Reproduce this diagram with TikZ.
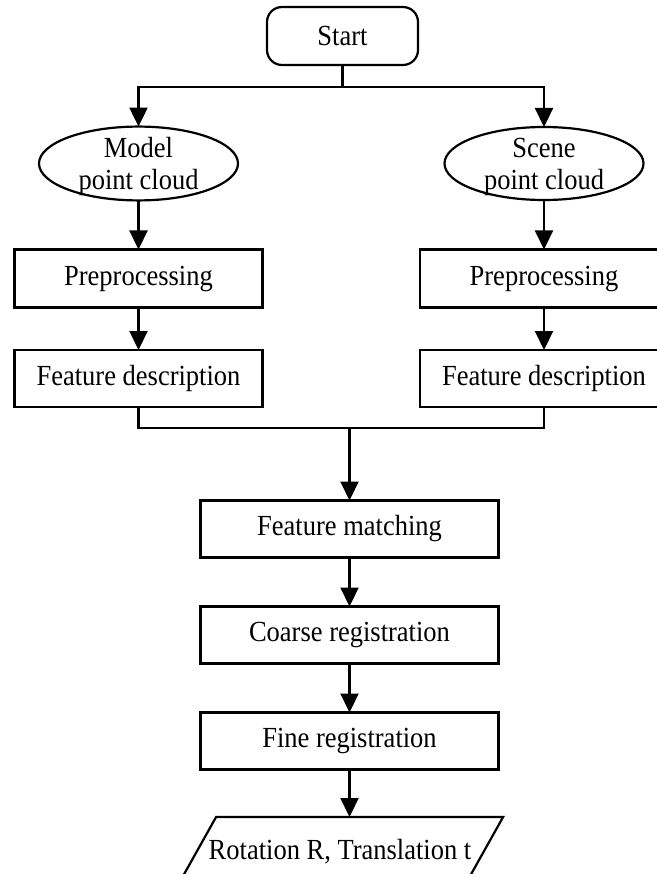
\documentclass[tikz,border=0pt]{standalone}
\usepackage{fontspec}
\setmainfont{Liberation Serif}
\usetikzlibrary{arrows.meta,shapes.geometric}
\newcommand{\vstr}[1]{\scalebox{1}[1.1]{#1}}
\begin{document}
\begin{tikzpicture}[x=1pt,y=-1pt,
  every node/.style={font=\fontsize{26.5}{32}\selectfont, inner sep=0pt, outer sep=0pt},
  arr/.style={line width=2.2pt, -{Triangle[length=19pt,width=18pt]}},
  procbox/.style={draw, line width=2.2pt, rectangle, minimum width=248pt, minimum height=58pt},
  midbox/.style={draw, line width=2.2pt, rectangle, minimum width=298pt, minimum height=57pt},
  cloud/.style={draw, line width=2.2pt, ellipse, minimum width=199pt, minimum height=73pt, align=center, text depth=0pt},
  startbox/.style={draw, line width=2.2pt, rectangle, rounded corners=15pt, minimum width=151pt, minimum height=58pt}
]
\useasboundingbox (0,0) rectangle (656,874);

\node[startbox] (start) at (342.5,36) {\vstr{Start}};
\node[cloud] (m) at (138.5,163.5) {\vstr{Model}\\\vstr{point cloud}};
\node[cloud] (s) at (544,163.5) {\vstr{Scene}\\\vstr{point cloud}};
\node[procbox] (p1) at (138.5,278.5) {\vstr{Preprocessing}};
\node[procbox] (p2) at (544,278.5) {\vstr{Preprocessing}};
\node[procbox, minimum height=57pt] (f1) at (138.5,378.5) {\vstr{Feature description}};
\node[procbox, minimum height=57pt] (f2) at (544,378.5) {\vstr{Feature description}};
\node[midbox] (fm) at (349.5,529) {\vstr{Feature matching}};
\node[midbox] (cr) at (349.5,635) {\vstr{Coarse registration}};
\node[midbox] (fr) at (349.5,741) {\vstr{Fine registration}};
\node[minimum width=287pt, minimum height=70pt] (out) at (340,852) {\vstr{Rotation R, Translation t}};
\draw[line width=2.2pt, line join=miter]
  ([xshift=19.6pt]out.north west) -- ([xshift=19.6pt]out.north east)
  -- ([xshift=-19.6pt]out.south east) -- ([xshift=-19.6pt]out.south west) -- cycle;

\coordinate (j1) at (342.5,87);
\coordinate (j2) at (349.5,428);

\draw[line width=2.2pt] (start.south) -- (j1);
\draw[arr] (j1) -| (m.north);
\draw[arr] (j1) -| (s.north);
\draw[arr] (m.south) -- (p1.north);
\draw[arr] (s.south) -- (p2.north);
\draw[arr] (p1.south) -- (f1.north);
\draw[arr] (p2.south) -- (f2.north);
\draw[line width=2.2pt] (f1.south) |- (j2);
\draw[line width=2.2pt] (f2.south) |- (j2);
\draw[arr] (j2) -- (fm.north);
\draw[arr] (fm.south) -- (cr.north);
\draw[arr] (cr.south) -- (fr.north);
\draw[arr] (fr.south) -- (fr.south |- out.north);
\end{tikzpicture}
\end{document}
